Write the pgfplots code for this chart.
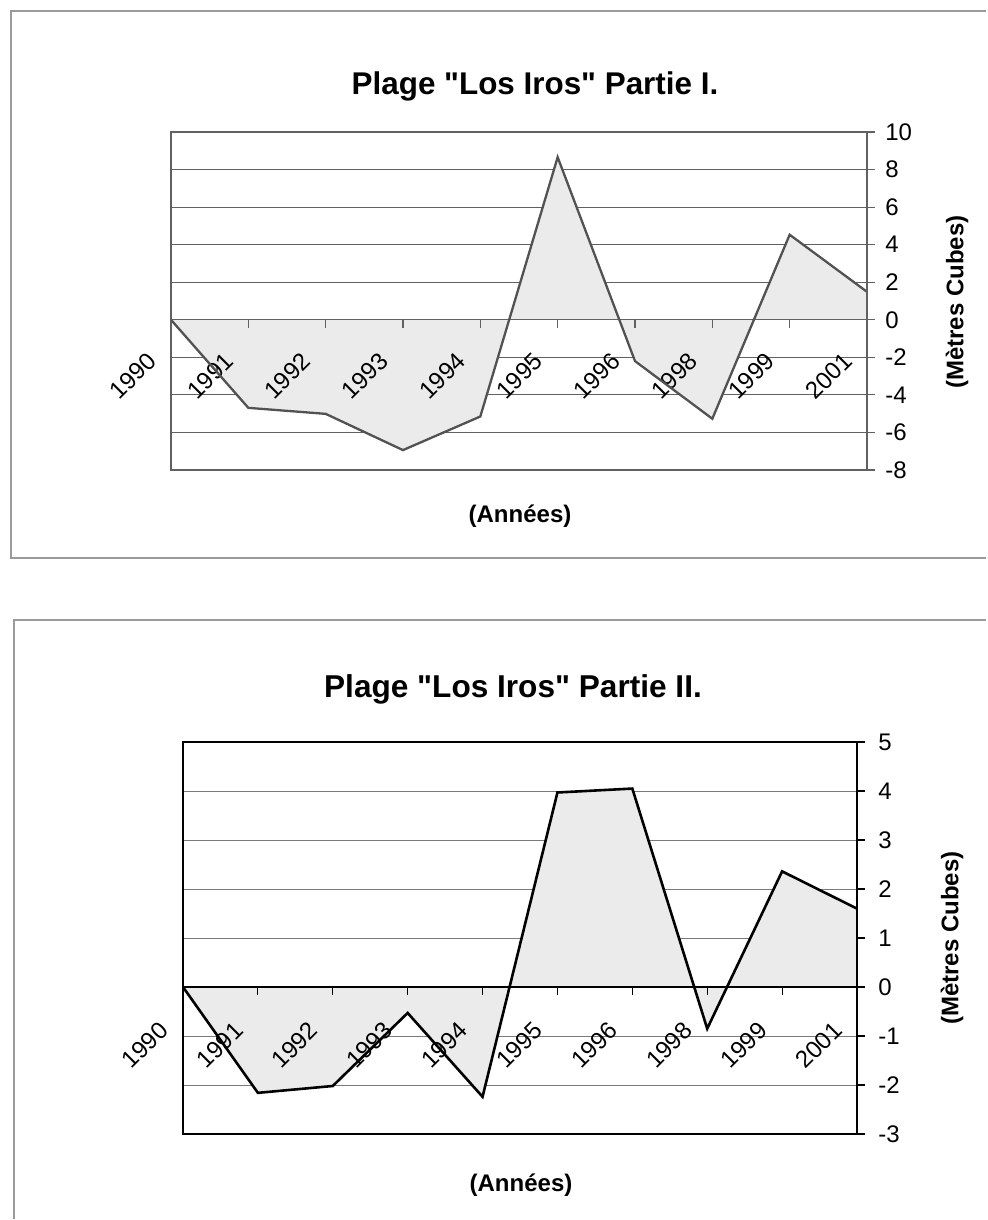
\documentclass[border=0pt]{standalone}
\usepackage{pgfplots}
\usepackage{pgfplotstable}
\pgfplotsset{compat=1.18}
\usepackage{fontspec}
\setmainfont{Liberation Sans}

% Volume change per year (cubic metres), beach "Los Iros"
\pgfplotstableread{
idx val
0 0
1 -4.69
2 -5.01
3 -6.94
4 -5.15
5 8.66
6 -2.20
7 -5.27
8 4.53
9 1.49
}\partieI

\pgfplotstableread{
idx val
0 0
1 -2.16
2 -2.02
3 -0.53
4 -2.24
5 3.97
6 4.05
7 -0.85
8 2.36
9 1.60
}\partieII

\definecolor{fillgray}{HTML}{EBEBEB}
\definecolor{framegray}{HTML}{9A9A9A}

\pgfplotsset{
  % common geometry
  losiros/.style={
    scale only axis,
    anchor=south west,
    xmin=0, xmax=9,
  },
  % back layer: horizontal grid and filled area
  losiros back/.style={
    losiros,
    xtick=\empty,
    yticklabels={},
    major tick length=0pt,
    axis line style={draw=none},
    ymajorgrids,
  },
  % front layer: zero line, right axis, ticks, labels and the curve
  losiros front/.style={
    losiros,
    axis x line=middle,
    axis y line=right,
    axis line style={-},
    xtick={0,...,9},
    xticklabels={1990,1991,1992,1993,1994,1995,1996,1998,1999,2001},
    hide obscured x ticks=false,
    xtick align=outside,
    ytick align=outside,
    major tick length=4pt,
    tick label style={font=\fontsize{12pt}{14pt}\selectfont},
    yticklabel style={inner sep=0pt, anchor=west},
    /pgf/number format/assume math mode=true,
  },
}

\newcommand{\q}{\textquotedbl}

\begin{document}
\begin{tikzpicture}
\path (0,0) rectangle (493.5pt,-610pt);

% ---------- Partie I ----------
\draw[framegray, line width=0.6pt] (493.2pt,-5.5pt) -- (5.5pt,-5.5pt) -- (5.5pt,-279pt) -- (493.2pt,-279pt);
\begin{axis}[losiros back,
  at={(85.5pt,-235pt)}, width=348pt, height=169pt,
  ymin=-8, ymax=10, ytick={-8,-6,...,10},
  grid style={color=black!62, line width=0.6pt},
]
\addplot[fill=fillgray, draw=none] table[x=idx, y=val] {\partieI} \closedcycle;
\end{axis}
\begin{axis}[losiros front, name=ax1,
  at={(85.5pt,-235pt)}, width=348pt, height=169pt,
  ymin=-8, ymax=10, ytick={-8,-6,...,10},
  xticklabel style={inner sep=0pt, xshift=-9.5pt, yshift=-14.5pt, rotate=45, anchor=east},
  yticklabel style={xshift=5pt},
  axis line style={color=black!62, line width=0.7pt},
  tick style={color=black!62, line width=0.6pt},
]
\addplot[color=black!68, line width=1.15pt] table[x=idx, y=val] {\partieI};
\end{axis}
\draw[black!62, line width=0.7pt] (ax1.south west) rectangle (ax1.north east);
\node[anchor=base, font=\bfseries\fontsize{15.7pt}{18pt}\selectfont] at (267.5pt,-47.5pt) {Plage \q Los Iros\q{} Partie I.};
\node[anchor=base, font=\bfseries\fontsize{12pt}{14pt}\selectfont] at (260pt,-261pt) {(Années)};
\node[rotate=90, font=\bfseries\fontsize{12pt}{14pt}\selectfont] at (478.5pt,-151pt) {(Mètres Cubes)};

% ---------- Partie II ----------
\draw[framegray, line width=0.6pt] (493.2pt,-310pt) -- (7pt,-310pt) -- (7pt,-609.7pt);
\begin{axis}[losiros back,
  at={(91.5pt,-567pt)}, width=337pt, height=196pt,
  ymin=-3, ymax=5, ytick={-3,...,5},
  grid style={color=black!52, line width=0.5pt},
]
\addplot[fill=fillgray, draw=none] table[x=idx, y=val] {\partieII} \closedcycle;
\end{axis}
\begin{axis}[losiros front, name=ax2,
  at={(91.5pt,-567pt)}, width=337pt, height=196pt,
  ymin=-3, ymax=5, ytick={-3,...,5},
  xticklabel style={inner sep=0pt, xshift=-9.5pt, yshift=-15.5pt, rotate=45, anchor=east},
  yticklabel style={xshift=6.5pt},
  axis line style={color=black, line width=0.8pt},
  tick style={color=black, line width=0.6pt},
]
\addplot[color=black, line width=1.3pt] table[x=idx, y=val] {\partieII};
\end{axis}
\draw[black, line width=0.8pt] (ax2.south west) rectangle (ax2.north east);
\node[anchor=base, font=\bfseries\fontsize{15.8pt}{18pt}\selectfont] at (256.5pt,-348.5pt) {Plage \q Los Iros\q{} Partie II.};
\node[anchor=base, font=\bfseries\fontsize{12pt}{14pt}\selectfont] at (260.5pt,-595.5pt) {(Années)};
\node[rotate=90, font=\bfseries\fontsize{12pt}{14pt}\selectfont] at (476pt,-469pt) {(Mètres Cubes)};
\end{tikzpicture}
\end{document}
